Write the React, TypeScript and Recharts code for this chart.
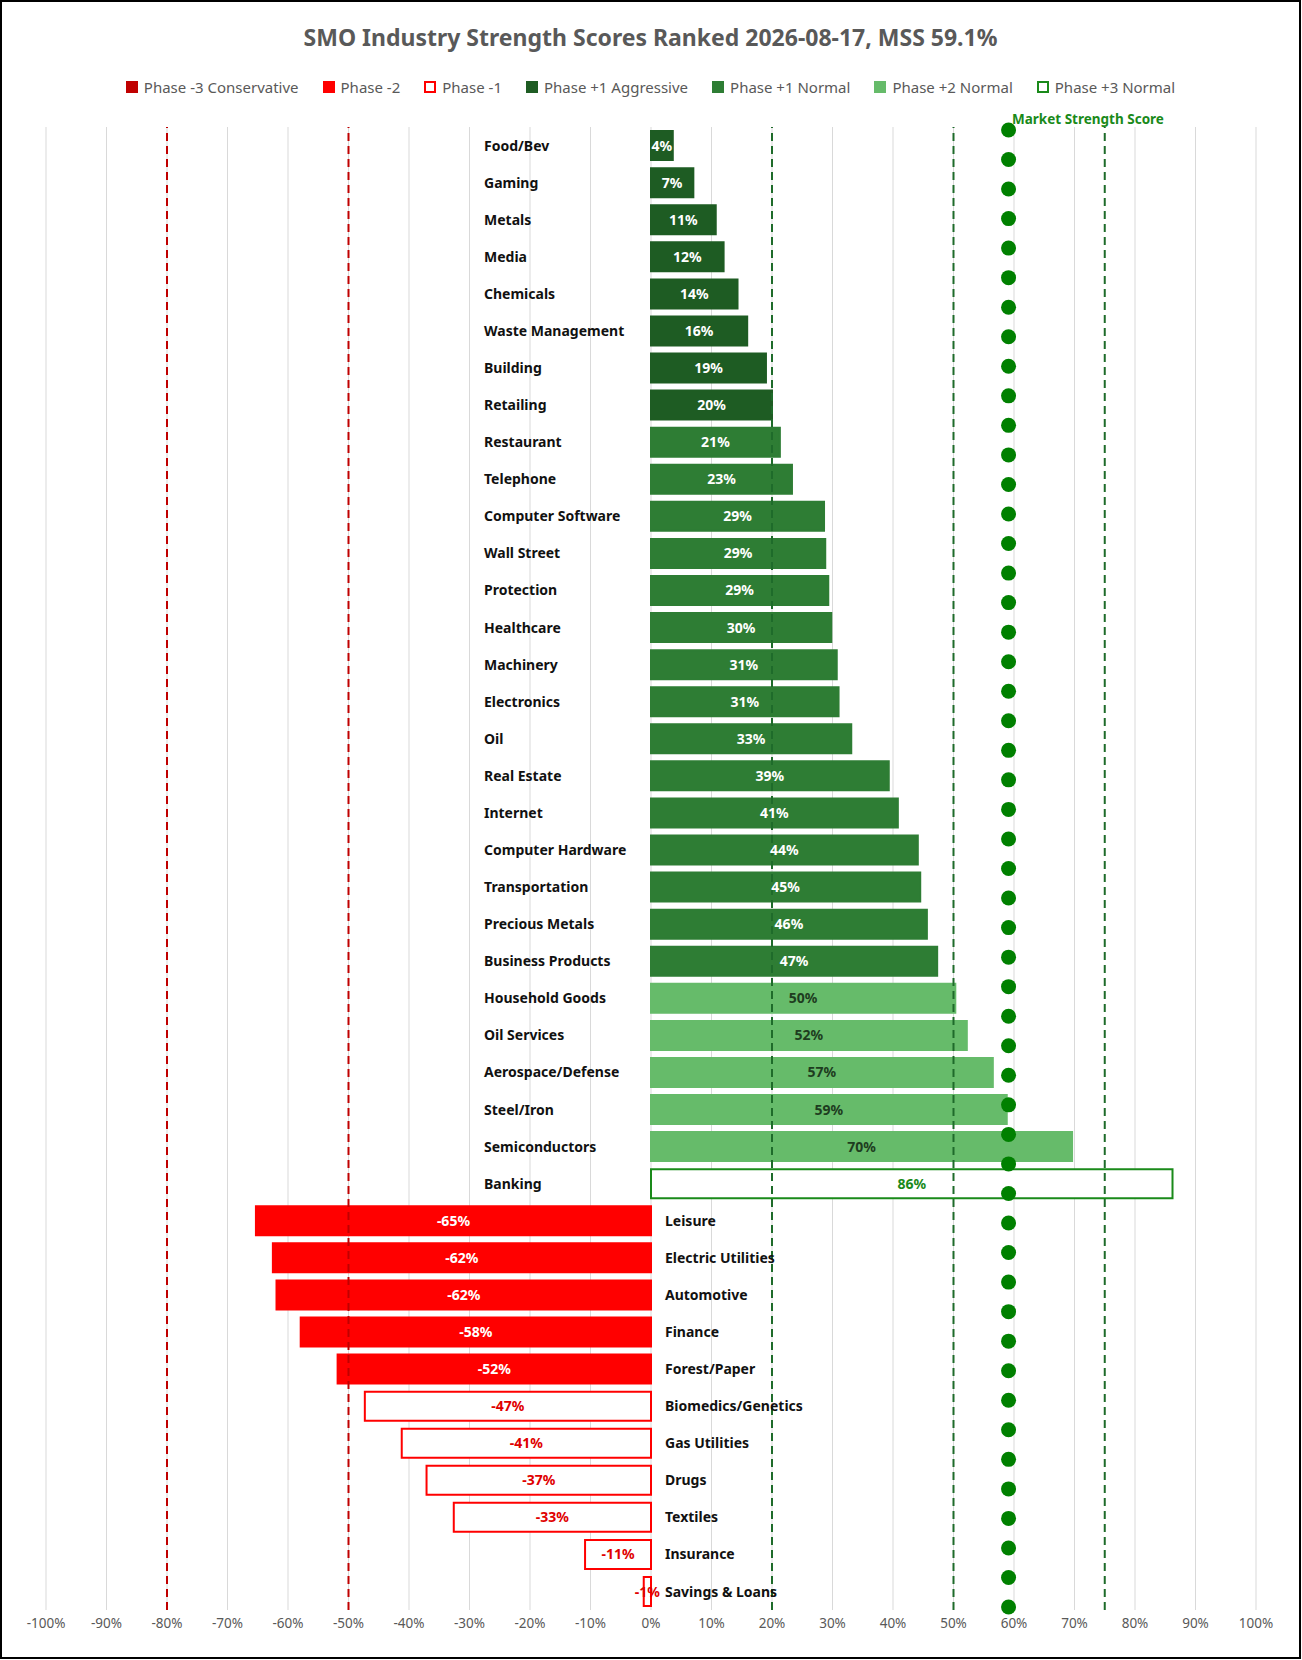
import { ComposedChart, Bar, Scatter, XAxis, YAxis, CartesianGrid, ReferenceLine, LabelList, Cell } from 'recharts';

const industries = [
  'Food/Bev', 'Gaming', 'Metals', 'Media', 'Chemicals', 'Waste Management', 'Building', 'Retailing',
  'Restaurant', 'Telephone', 'Computer Software', 'Wall Street', 'Protection', 'Healthcare', 'Machinery',
  'Electronics', 'Oil', 'Real Estate', 'Internet', 'Computer Hardware', 'Transportation', 'Precious Metals',
  'Business Products', 'Household Goods', 'Oil Services', 'Aerospace/Defense', 'Steel/Iron', 'Semiconductors',
  'Banking', 'Leisure', 'Electric Utilities', 'Automotive', 'Finance', 'Forest/Paper', 'Biomedics/Genetics',
  'Gas Utilities', 'Drugs', 'Textiles', 'Insurance', 'Savings & Loans',
];
const scores = [
  3.6, 7, 10.7, 12, 14.3, 15.9, 19, 20, 21.3, 23.3, 28.6, 28.8, 29.3, 29.8, 30.7, 31, 33.1, 39.3, 40.8,
  44.1, 44.5, 45.6, 47.3, 50.3, 52.2, 56.5, 58.8, 69.6, 86.2, -65.3, -62.5, -61.9, -57.9, -51.8, -47.3,
  -41.2, -37.1, -32.6, -10.9, -1.2,
];
const phases = [
  'p1a', 'p1a', 'p1a', 'p1a', 'p1a', 'p1a', 'p1a', 'p1a',
  'p1n', 'p1n', 'p1n', 'p1n', 'p1n', 'p1n', 'p1n', 'p1n', 'p1n', 'p1n', 'p1n', 'p1n', 'p1n', 'p1n', 'p1n',
  'p2n', 'p2n', 'p2n', 'p2n', 'p2n', 'p3n',
  'm2', 'm2', 'm2', 'm2', 'm2', 'm1', 'm1', 'm1', 'm1', 'm1', 'm1',
];
const mss = 59.1;
const xTicks = [-100, -90, -80, -70, -60, -50, -40, -30, -20, -10, 0, 10, 20, 30, 40, 50, 60, 70, 80, 90, 100];

const styles: Record<string, { fill: string; stroke: string; text: string }> = {
  m3: { fill: '#c00000', stroke: '#c00000', text: '#fff' },
  m2: { fill: '#ff0000', stroke: '#ff0000', text: '#fff' },
  m1: { fill: '#ffffff', stroke: '#ff0000', text: '#e00000' },
  p1a: { fill: '#1e5c23', stroke: '#1e5c23', text: '#fff' },
  p1n: { fill: '#2e7d34', stroke: '#2e7d34', text: '#fff' },
  p2n: { fill: '#66bb6a', stroke: '#66bb6a', text: '#1e3d20' },
  p3n: { fill: '#ffffff', stroke: '#1a8a1a', text: '#1a8a1a' },
};

const legend = [
  ['m3', 'Phase -3 Conservative'], ['m2', 'Phase -2'], ['m1', 'Phase -1'], ['p1a', 'Phase +1 Aggressive'],
  ['p1n', 'Phase +1 Normal'], ['p2n', 'Phase +2 Normal'], ['p3n', 'Phase +3 Normal'],
];

const data = industries.map((name, i) => ({ name, value: scores[i], phase: phases[i] }));
const dots = Array.from({ length: 51 }, (_, i) => ({ x: mss, y: i }));

const font = '"Noto Sans", sans-serif';

const BarLabel = (props: any) => {
  const { x, y, width, height, index } = props;
  const d = data[index];
  const left = Math.min(x, x + width);
  const right = Math.max(x, x + width);
  const zero = d.value < 0 ? right : left;
  const cy = y + height / 2;
  return (
    <g style={{ fontFamily: font }}>
      <text x={(left + right) / 2} y={cy} dy={5} textAnchor="middle" fontSize={14} fontWeight={700} fill={styles[d.phase].text}>
        {Math.round(d.value)}%
      </text>
      <text x={d.value < 0 ? zero + 14 : zero - 167} y={cy} dy={5} textAnchor="start" fontSize={14} fontWeight={700} fill="#111">
        {d.name}
      </text>
    </g>
  );
};

export default function App() {
  return (
    <div style={{ position: 'absolute', top: 0, left: 0, width: 1297, height: 1655, border: '2px solid #000', background: '#fff', fontFamily: font }}>
      <div style={{ position: 'absolute', top: 19, width: '100%', textAlign: 'center', fontSize: 23, fontWeight: 700, color: '#595959' }}>
        SMO Industry Strength Scores Ranked 2026-08-17, MSS 59.1%
      </div>
      <div style={{ position: 'absolute', top: 75, width: '100%', display: 'flex', justifyContent: 'center', gap: 24, fontSize: 15, color: '#595959' }}>
        {legend.map(([k, label]) => (
          <div key={k} style={{ display: 'flex', alignItems: 'center', gap: 6 }}>
            <span style={{ width: 8, height: 8, background: styles[k].fill, border: `2px solid ${styles[k].stroke}` }} />
            {label}
          </div>
        ))}
      </div>
      <ComposedChart
        width={1297}
        height={1655}
        data={data}
        layout="vertical"
        barCategoryGap="11%"
        margin={{ top: 125, right: 43, left: 44, bottom: 17 }}
      >
        <CartesianGrid horizontal={false} stroke="#d9d9d9" />
        <XAxis
          type="number"
          domain={[-100, 100]}
          ticks={xTicks}
          tickFormatter={(v: number) => `${v}%`}
          axisLine={false}
          tickLine={false}
          tick={{ fill: '#595959', fontSize: 13.5 }}
          height={30}
        />
        <XAxis xAxisId="dots" type="number" dataKey="x" domain={[-100, 100]} hide />
        <YAxis yAxisId={0} type="category" dataKey="name" hide />
        <YAxis yAxisId="dots" type="number" dataKey="y" domain={[-0.1, 50.1]} reversed hide />
        <ReferenceLine x={-80} stroke="#c00000" strokeDasharray="8 5" strokeWidth={2} />
        <ReferenceLine x={-50} stroke="#c00000" strokeDasharray="8 5" strokeWidth={2} />
        <ReferenceLine x={20} stroke="#1e6b2a" strokeDasharray="8 5" strokeWidth={2} />
        <ReferenceLine x={50} stroke="#1e6b2a" strokeDasharray="8 5" strokeWidth={2} />
        <ReferenceLine x={75} stroke="#1e6b2a" strokeDasharray="8 5" strokeWidth={2} />
        <Bar dataKey="value" isAnimationActive={false} strokeWidth={2}>
          {data.map((d, i) => (
            <Cell key={i} fill={styles[d.phase].fill} stroke={styles[d.phase].stroke} />
          ))}
          <LabelList dataKey="value" content={BarLabel} />
        </Bar>
        <Scatter data={dots} xAxisId="dots" yAxisId="dots" fill="#008000" isAnimationActive={false} shape={(p: any) => <circle cx={p.cx} cy={p.cy} r={7.5} fill="#008000" />} />
      </ComposedChart>
      <div style={{ position: 'absolute', top: 108, left: 1010, fontSize: 13.5, fontWeight: 700, color: '#1a8a1a' }}>Market Strength Score</div>
    </div>
  );
}
